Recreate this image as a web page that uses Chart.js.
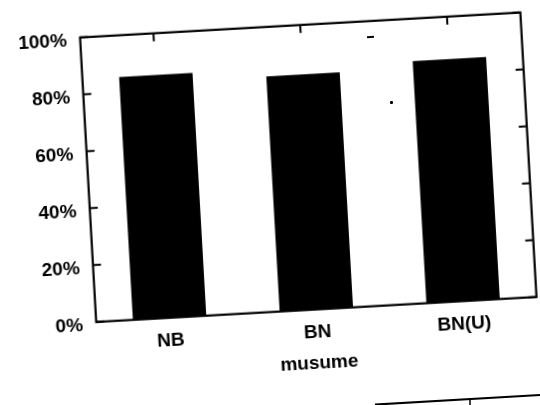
<!DOCTYPE html>
<html>
<head>
<meta charset="utf-8">
<script src="https://cdn.jsdelivr.net/npm/chart.js@4.4.1/dist/chart.umd.min.js"></script>
<style>
  html, body { margin:0; padding:0; background:#fff; overflow:hidden; }
  #wrap { position:absolute; left:0; top:0; width:540px; height:405px;
          transform-origin:308px 166px; transform:rotate(-3.25deg); }
  .speck { position:absolute; background:#000; }
  svg { position:absolute; left:0; top:0; }
</style>
</head>
<body>
<div id="wrap"><canvas id="c" width="540" height="405"></canvas></div>
<div class="speck" style="left:367px;top:36px;width:7px;height:2px;transform:rotate(-6deg)"></div>
<div class="speck" style="left:390px;top:101px;width:3px;height:3px;border-radius:1px"></div>
<svg width="540" height="405">
  <line x1="375" y1="404.5" x2="540" y2="395" stroke="#000" stroke-width="2.2"/>
  <line x1="470" y1="399" x2="470" y2="405" stroke="#000" stroke-width="1.5"/>
</svg>
<script>
const categories = ['NB', 'BN', 'BN(U)'];
const values = [85.4, 82.6, 85.1];
const yTicks = [0, 20, 40, 60, 80, 100];
const xTitle = 'musume';

const FONT = '"Liberation Sans", Arial, sans-serif';

const framePlugin = {
  id: 'frame',
  afterDraw(chart) {
    const {ctx, chartArea: a, scales: {x, y}} = chart;
    ctx.save();
    ctx.strokeStyle = '#000';
    ctx.lineWidth = 2.2;
    ctx.strokeRect(a.left, a.top, a.right - a.left, a.bottom - a.top);
    ctx.lineWidth = 2;
    const L = 8;
    ctx.beginPath();
    yTicks.forEach(v => {
      const py = y.getPixelForValue(v);
      ctx.moveTo(a.left, py); ctx.lineTo(a.left + L, py);
      ctx.moveTo(a.right, py); ctx.lineTo(a.right - L, py);
    });
    categories.forEach((c, i) => {
      const px = x.getPixelForValue(i);
      ctx.moveTo(px, a.top); ctx.lineTo(px, a.top + L);
      ctx.moveTo(px, a.bottom); ctx.lineTo(px, a.bottom - L);
    });
    ctx.stroke();
    ctx.restore();
  }
};

new Chart(document.getElementById('c'), {
  type: 'bar',
  data: {
    labels: categories,
    datasets: [{
      data: values,
      backgroundColor: '#000',
      borderWidth: 0,
      barPercentage: 0.5,
      categoryPercentage: 1.0
    }]
  },
  options: {
    responsive: false,
    animation: false,
    devicePixelRatio: 1,
    layout: { padding: { left: 0, top: 22.3, right: 11.3, bottom: 0 } },
    plugins: { legend: { display: false }, tooltip: { enabled: false } },
    scales: {
      x: {
        grid: { display: false, drawTicks: false },
        border: { display: false },
        ticks: { color: '#000', padding: 11.5, font: { family: FONT, size: 19, weight: 'bold' } },
        title: { display: true, text: xTitle, color: '#000',
                 font: { family: FONT, size: 19, weight: 'bold' },
                 padding: { top: 0, bottom: 29.6 } },
        afterFit(s) { s.height = 405 - 309.7; }
      },
      y: {
        min: 0, max: 100,
        grid: { display: false, drawTicks: false },
        border: { display: false },
        afterBuildTicks(s) { s.ticks = yTicks.map(v => ({ value: v })); },
        ticks: { color: '#000', padding: 13.4, labelOffset: 3,
                 font: { family: FONT, size: 19, weight: 'bold' },
                 callback: v => v + '%' },
        afterFit(s) { s.width = 87.7; }
      }
    }
  },
  plugins: [framePlugin]
});
</script>
</body>
</html>
